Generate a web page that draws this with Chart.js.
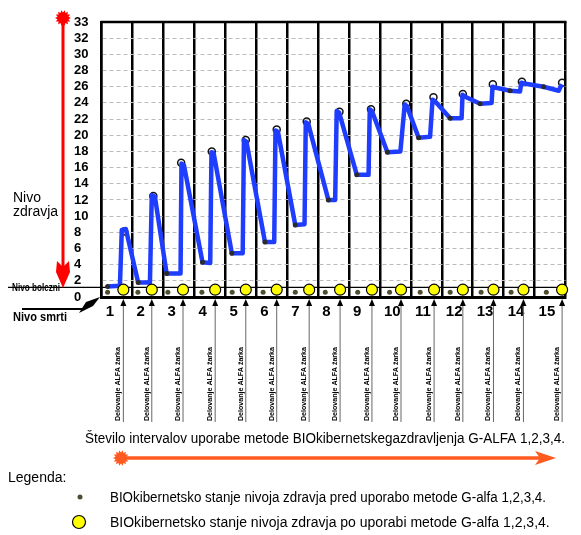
<!DOCTYPE html>
<html>
<head>
<meta charset="utf-8">
<script src="https://cdn.jsdelivr.net/npm/chart.js@4.4.1/dist/chart.umd.min.js"></script>
<style>
  body { margin: 0; background: #fff; }
</style>
</head>
<body>
<canvas id="chartZdravje" width="581" height="535"></canvas>
<script>
// oznake intervalov in osi
var xLabels = ['1', '2', '3', '4', '5', '6', '7', '8', '9', '10', '11', '12', '13', '14', '15'];
var yTickLabels = ['0', '2', '4', '6', '8', '10', '12', '14', '16', '18', '20', '22', '24', '26', '28', '30', '32', '33'];

// potek nivoja zdravja (modra crta)
var pathX = [0.19, 0.59, 0.65, 0.78, 1.18, 1.56, 1.62, 1.72, 2.10, 2.55, 2.58, 2.66, 3.26, 3.51, 3.55, 3.62,
  4.21, 4.56, 4.60, 4.68, 5.28, 5.58, 5.62, 5.70, 6.26, 6.56, 6.60, 6.68, 7.33, 7.55, 7.60, 7.68,
  8.25, 8.63, 8.67, 8.74, 9.24, 9.66, 9.80, 9.87, 10.25, 10.62, 10.70, 10.78, 11.27, 11.64, 11.67, 11.74,
  12.24, 12.61, 12.64, 12.72, 13.21, 13.53, 13.57, 13.66, 14.29, 14.78, 14.88];
var pathY = [1.3, 1.4, 8.3, 8.4, 1.8, 1.8, 12.6, 12.4, 2.9, 2.9, 16.5, 16.3, 4.3, 4.2, 17.9, 17.8,
  5.4, 5.4, 19.4, 19.2, 6.8, 6.8, 20.6, 20.4, 8.9, 9.0, 21.6, 21.4, 12.0, 12.0, 23.0, 22.8,
  15.1, 15.1, 23.2, 23.0, 17.9, 18.0, 23.8, 23.6, 19.7, 19.8, 24.4, 24.2, 22.1, 22.1, 25.0, 24.8,
  23.9, 24.0, 26.0, 25.9, 25.5, 25.4, 26.5, 26.4, 26.0, 25.5, 26.3];

// vrhovi po delovanju zarka
var peakX = [0.73, 1.67, 2.57, 3.56, 4.66, 5.66, 6.63, 7.69, 8.71, 9.85, 10.73, 11.68, 12.65, 13.59, 14.89];
var peakY = [8.1, 12.5, 16.6, 18.0, 19.4, 20.7, 21.7, 22.9, 23.2, 23.9, 24.7, 25.1, 26.3, 26.6, 26.5];

// stanje pred in po uporabi metode (spodnja vrsta)
var beforeX = [0.19, 1.17, 2.14, 3.24, 4.22, 5.22, 6.26, 7.23, 8.28, 9.31, 10.3, 11.27, 12.27, 13.24, 14.38];
var beforeY = [0.6, 0.6, 0.6, 0.6, 0.6, 0.6, 0.6, 0.6, 0.6, 0.6, 0.6, 0.6, 0.6, 0.6, 0.6];
var afterX = [0.70, 1.62, 2.63, 3.67, 4.66, 5.66, 6.71, 7.71, 8.74, 9.68, 10.75, 11.68, 12.67, 13.64, 14.89];
var afterY = [0.9, 0.9, 0.9, 0.9, 0.9, 0.9, 0.9, 0.9, 0.9, 0.9, 0.9, 0.9, 0.9, 0.9, 0.9];

var illnessLevel = 1.2;

function zip(xs, ys) {
  return xs.map(function (x, i) { return { x: x, y: ys[i] }; });
}

function star(ctx, cx, cy, r, color) {
  ctx.beginPath();
  for (var i = 0; i < 28; i++) {
    var a = i * Math.PI / 14;
    var rr = i % 2 ? r * 0.7 : r;
    ctx.lineTo(cx + rr * Math.cos(a), cy + rr * Math.sin(a));
  }
  ctx.closePath();
  ctx.fillStyle = color;
  ctx.fill();
}

var extras = {
  id: 'extras',
  beforeDatasetsDraw: function (chart) {
    var ctx = chart.ctx, a = chart.chartArea;
    var yb = chart.scales.y.getPixelForValue(illnessLevel);
    ctx.save();
    ctx.strokeStyle = '#000';
    ctx.lineWidth = 2.5;
    ctx.beginPath(); ctx.moveTo(a.left - 1, a.top); ctx.lineTo(a.right + 1, a.top); ctx.stroke();
    ctx.lineWidth = 1.2;
    ctx.beginPath(); ctx.moveTo(8, yb); ctx.lineTo(a.right, yb); ctx.stroke();
    ctx.restore();
  },
  afterDraw: function (chart) {
    var ctx = chart.ctx, xs = chart.scales.x;
    ctx.save();
    ctx.fillStyle = '#000';

    // levo: nivo zdravja, rdeca puscica
    ctx.font = '14px "Liberation Sans", Arial, sans-serif';
    ctx.fillText('Nivo', 13, 202);
    ctx.fillText('zdravja', 13, 216);
    ctx.strokeStyle = '#ff0000';
    ctx.lineWidth = 3;
    ctx.beginPath(); ctx.moveTo(63, 22); ctx.lineTo(63, 268); ctx.stroke();
    ctx.fillStyle = '#ff0000';
    ctx.beginPath(); ctx.moveTo(57, 261); ctx.lineTo(63, 267); ctx.lineTo(69, 261);
    ctx.lineTo(70, 272); ctx.lineTo(63, 288); ctx.lineTo(56, 272); ctx.closePath(); ctx.fill();
    star(ctx, 63, 18, 8, '#ff0000');

    ctx.fillStyle = '#000';
    ctx.font = 'bold 11px "Liberation Sans", Arial, sans-serif';
    ctx.fillText('Nivo bolezni', 12, 291, 48);
    ctx.font = 'bold 12px "Liberation Sans", Arial, sans-serif';
    ctx.fillText('Nivo smrti', 13, 321, 54);

    // puscica nivo smrti
    ctx.strokeStyle = '#000';
    ctx.lineWidth = 2;
    ctx.beginPath(); ctx.moveTo(22, 309); ctx.lineTo(85, 309); ctx.stroke();
    ctx.beginPath(); ctx.moveTo(79, 313); ctx.lineTo(86, 302); ctx.lineTo(100, 297);
    ctx.lineTo(93, 306); ctx.closePath(); ctx.fill();

    // puscice delovanja ALFA zarka
    afterX.forEach(function (v) {
      var px = xs.getPixelForValue(v);
      ctx.strokeStyle = '#666';
      ctx.lineWidth = 1;
      ctx.beginPath(); ctx.moveTo(px, 303); ctx.lineTo(px, 422); ctx.stroke();
      ctx.fillStyle = '#000';
      ctx.beginPath(); ctx.moveTo(px, 299); ctx.lineTo(px - 3, 306); ctx.lineTo(px + 3, 306); ctx.closePath(); ctx.fill();
      ctx.save();
      ctx.translate(px - 3, 421);
      ctx.rotate(-Math.PI / 2);
      ctx.font = 'bold 8px "Liberation Sans", Arial, sans-serif';
      ctx.fillText('Delovanje ALFA žarka', 0, 0, 74);
      ctx.restore();
    });

    // naslov osi x in oranzna puscica
    ctx.fillStyle = '#000';
    ctx.font = '14px "Liberation Sans", Arial, sans-serif';
    ctx.fillText('Število intervalov uporabe metode BIOkibernetskegazdravljenja G-ALFA 1,2,3,4.', 85, 443, 480);
    ctx.strokeStyle = '#ff5a1f';
    ctx.lineWidth = 3.5;
    ctx.beginPath(); ctx.moveTo(121, 458); ctx.lineTo(545, 458); ctx.stroke();
    ctx.fillStyle = '#ff5a1f';
    ctx.beginPath(); ctx.moveTo(535, 451); ctx.lineTo(556, 458); ctx.lineTo(535, 465); ctx.lineTo(540, 458); ctx.closePath(); ctx.fill();
    star(ctx, 121, 458, 8, '#ff5a1f');

    // legenda
    var ds = chart.data.datasets;
    ctx.fillStyle = '#000';
    ctx.font = '14px "Liberation Sans", Arial, sans-serif';
    ctx.fillText('Legenda:', 8, 482);
    ctx.beginPath(); ctx.arc(80, 497, 2.5, 0, Math.PI * 2);
    ctx.fillStyle = ds[2].backgroundColor; ctx.fill();
    ctx.beginPath(); ctx.arc(79, 522, 6.5, 0, Math.PI * 2);
    ctx.fillStyle = ds[3].backgroundColor; ctx.fill();
    ctx.strokeStyle = '#000'; ctx.lineWidth = 1.2; ctx.stroke();
    ctx.fillStyle = '#000';
    ctx.font = '14px "Liberation Sans", Arial, sans-serif';
    ctx.fillText(ds[2].label, 110, 502, 436);
    ctx.fillText(ds[3].label, 110, 527, 443);
    ctx.restore();
  }
};

Chart.defaults.font.family = '"Liberation Sans", Arial, sans-serif';
Chart.defaults.color = '#000';

var ctx = document.getElementById('chartZdravje').getContext('2d');
var myChart = new Chart(ctx, {
  type: 'scatter',
  data: {
    datasets: [
      {
        label: 'Nivo zdravja',
        type: 'line',
        data: zip(pathX, pathY),
        borderColor: '#1f3dff',
        borderWidth: 4.5,
        borderJoinStyle: 'round',
        tension: 0,
        pointRadius: function (c) { return c.dataIndex % 4 === 0 ? 2.5 : 0; },
        pointBackgroundColor: '#2b2b2b',
        pointBorderWidth: 0,
        order: 1
      },
      {
        label: 'Vrh',
        data: zip(peakX, peakY),
        pointRadius: 3.5,
        pointBackgroundColor: 'rgba(255,255,255,0)',
        pointBorderColor: '#111',
        pointBorderWidth: 1.5,
        order: 2
      },
      {
        label: 'BIOkibernetsko stanje nivoja zdravja pred uporabo metode G-alfa 1,2,3,4.',
        data: zip(beforeX, beforeY),
        backgroundColor: '#4d4d30',
        pointRadius: 2.5,
        pointBorderWidth: 0,
        order: 0
      },
      {
        label: 'BIOkibernetsko stanje nivoja zdravja po uporabi metode G-alfa 1,2,3,4.',
        data: zip(afterX, afterY),
        backgroundColor: '#ffff00',
        borderColor: '#000',
        pointRadius: 5.5,
        pointBorderWidth: 1.2,
        clip: false,
        order: 0
      }
    ]
  },
  options: {
    responsive: false,
    animation: false,
    layout: { padding: { left: 74, top: 22, right: 15.5, bottom: 0 } },
    plugins: { legend: { display: false }, tooltip: { enabled: false } },
    scales: {
      x: {
        type: 'linear',
        min: 0,
        max: 15,
        afterFit: function (s) { s.height = 238; },
        ticks: {
          stepSize: 1,
          autoSkip: false,
          maxRotation: 0,
          align: 'start',
          labelOffset: 4,
          padding: 6,
          font: { size: 15, weight: 'bold' },
          callback: function (v) { return xLabels[v] || ''; }
        },
        grid: { color: '#000', lineWidth: 2.5, drawTicks: false },
        border: { color: '#000', width: 3 }
      },
      y: {
        min: 0,
        max: 34,
        afterFit: function (s) { s.width = 27.7; },
        ticks: {
          stepSize: 2,
          autoSkip: false,
          crossAlign: 'far',
          font: { size: 13, weight: 'bold' },
          callback: function (v, i) { return yTickLabels[i]; }
        },
        grid: { color: '#bbb', lineWidth: 1, drawTicks: false },
        border: { color: '#000', width: 2.5, dash: [4, 3] }
      }
    }
  },
  plugins: [extras]
});
</script>
</body>
</html>
